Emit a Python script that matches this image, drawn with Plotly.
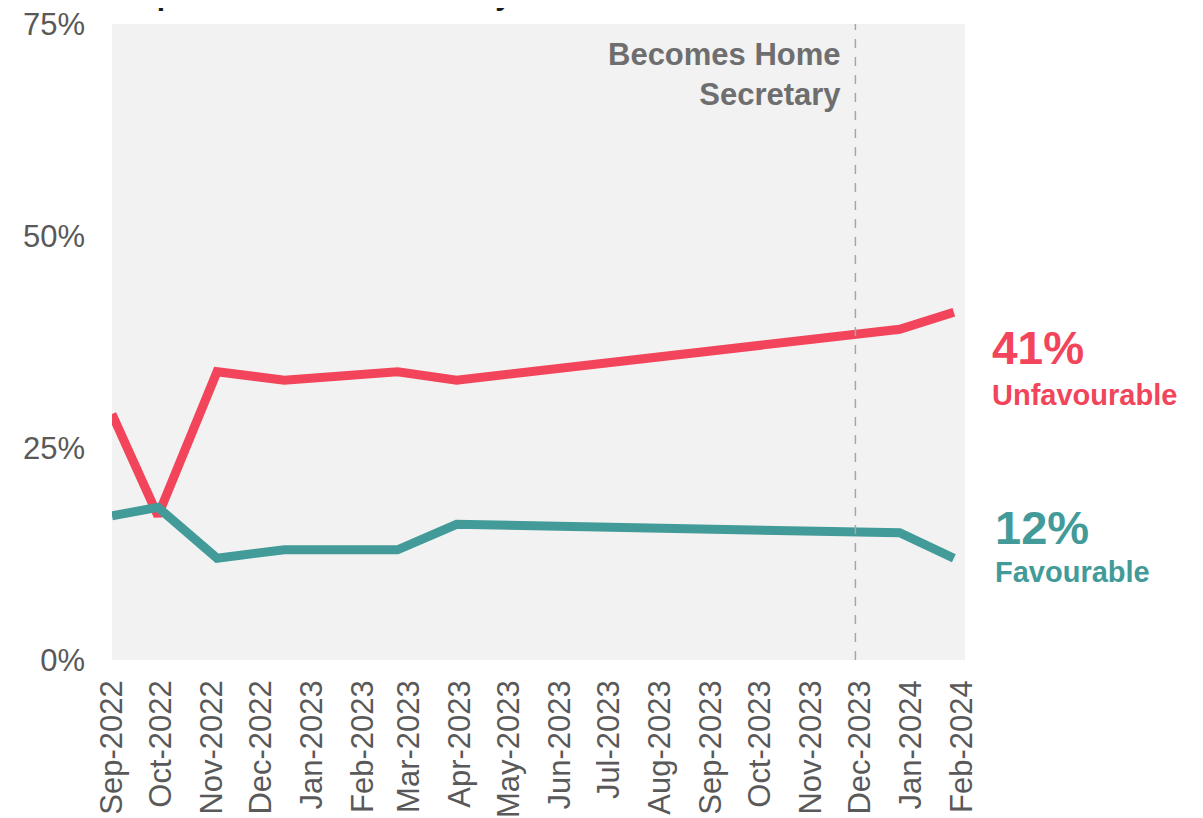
import plotly.graph_objects as go

# ---- data ----
dates = ["2022-09-01", "2022-09-29", "2022-11-04", "2022-12-15",
         "2023-02-22", "2023-03-30", "2023-12-25", "2024-01-27"]
unfavourable = [29, 17, 34, 33, 34, 33, 39, 41]
favourable = [17, 18, 12, 13, 13, 16, 15, 12]
event_date = "2023-11-28"
event_label = "Becomes Home<br>Secretary"
title_text = "September 2022 – February 2024"
y_ticks = [0, 25, 50, 75]
y_tick_labels = ["0%", "25%", "50%", "75%"]

RED = "#F2445A"
TEAL = "#429B98"
FONT = "Liberation Sans, Arial, sans-serif"

fig = go.Figure()
fig.add_trace(go.Scatter(x=dates, y=unfavourable, mode="lines",
                         line=dict(color=RED, width=9), name="Unfavourable",
                         hoverinfo="skip"))
fig.add_trace(go.Scatter(x=dates, y=favourable, mode="lines",
                         line=dict(color=TEAL, width=9), name="Favourable",
                         hoverinfo="skip"))

fig.add_shape(type="line", xref="x", yref="paper", x0=event_date, x1=event_date,
              y0=0, y1=1, line=dict(color="#A6A6A6", width=1.5, dash="dash"))

annos = [
    dict(x=event_date, y=69.1, xref="x", yref="y", text=event_label,
         xanchor="right", yanchor="middle", align="right", xshift=-12,
         showarrow=False, font=dict(family=FONT, size=31, color="#6E6E6E", weight="bold")),
    dict(x=1.0295, y=36.8, xref="paper", yref="y", text=f"{unfavourable[-1]}%",
         xanchor="left", yanchor="middle", showarrow=False,
         font=dict(family=FONT, size=46, color=RED, weight="bold")),
    dict(x=1.0295, y=31.2, xref="paper", yref="y", text="Unfavourable",
         xanchor="left", yanchor="middle", showarrow=False,
         font=dict(family=FONT, size=29, color=RED, weight="bold")),
    dict(x=1.033, y=15.6, xref="paper", yref="y", text=f"{favourable[-1]}%",
         xanchor="left", yanchor="middle", showarrow=False,
         font=dict(family=FONT, size=47, color=TEAL, weight="bold")),
    dict(x=1.033, y=10.4, xref="paper", yref="y", text="Favourable",
         xanchor="left", yanchor="middle", showarrow=False,
         font=dict(family=FONT, size=29, color=TEAL, weight="bold")),
    dict(x=0.007, y=1.047, xref="paper", yref="paper", text=title_text,
         xanchor="left", yanchor="middle", showarrow=False,
         font=dict(family=FONT, size=30, color="#1A1A1A", weight="bold")),
]
for a in annos:
    fig.add_annotation(**a)

# page body has an 8px default margin, so the figure is sized to fit the window
fig.update_layout(
    width=1195, height=810,
    margin=dict(l=104, r=238, t=16, b=158),
    paper_bgcolor="white", plot_bgcolor="#F2F2F2",
    showlegend=False,
    font=dict(family=FONT, color="#595959"),
)
fig.update_xaxes(
    type="date", range=["2022-09-01", "2024-02-02 19:00"],
    tick0="2022-09-01", dtick="M1", tickformat="%b-%Y", tickangle=-90,
    showgrid=False, zeroline=False, showline=False, ticks="",
    ticklabelstandoff=13, automargin=False, ticklabeloverflow="allow",
    tickfont=dict(family=FONT, size=31, color="#595959"),
)
fig.update_yaxes(
    range=[0, 75], tickvals=y_ticks, ticktext=y_tick_labels,
    showgrid=False, zeroline=False, showline=False, ticks="",
    ticklabelstandoff=26, automargin=False, ticklabeloverflow="allow",
    tickfont=dict(family=FONT, size=31, color="#595959"),
)

fig.write_html("out.html")
